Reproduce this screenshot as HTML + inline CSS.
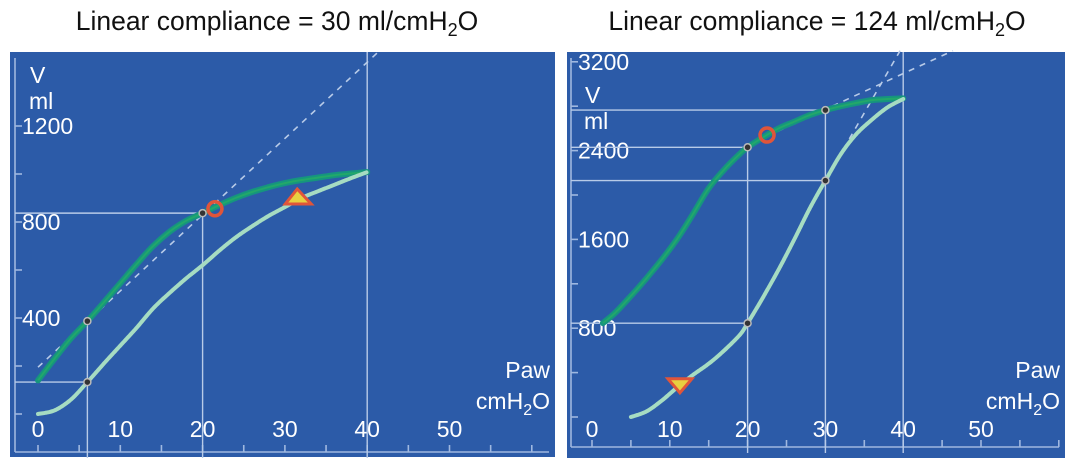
<!DOCTYPE html>
<html><head><meta charset="utf-8"><style>
body{margin:0;background:#fff;width:1075px;height:462px;overflow:hidden;font-family:"Liberation Sans",sans-serif}
svg text{font-family:"Liberation Sans",sans-serif}
</style></head><body>
<svg id="s" width="1075" height="462" xmlns="http://www.w3.org/2000/svg">
<text x="277" y="30" font-size="26.5" text-anchor="middle" fill="#111">Linear compliance = 30 ml/cmH<tspan font-size="18" dy="6">2</tspan><tspan dy="-6">O</tspan></text>
<text x="817" y="30" font-size="26.5" text-anchor="middle" fill="#111">Linear compliance = 124 ml/cmH<tspan font-size="18" dy="6">2</tspan><tspan dy="-6">O</tspan></text>
</svg>
<script>
// Left panel data (cmH2O, ml)
const lInspP=[0,2,4,6,8,10,12,14,16,18,20,22,24,26,28,30,32,34,36,38,40];
const lInspV=[0,15,60,133,210,285,360,440,505,565,620,680,735,782,825,862,900,928,955,982,1008];
const lExpP=[0,2,4,6,8,10,12,14,16,18,20,22,24,26,28,30,32,34,36,38,40];
const lExpV=[140,230,315,387,465,545,625,700,760,805,837,870,900,925,945,962,975,985,995,1002,1008];
const lYTicks=[0,200,400,600,800,1000,1200];
const lYLabels=[400,800,1200];
// Right panel data
const rInspP=[5,7,9,11,13,15,17,19,20,22,24,26,28,30,32,34,36,38,40];
const rInspV=[0,50,150,270,380,480,600,740,845,1080,1330,1600,1880,2130,2370,2550,2680,2790,2865];
const rExpP=[1.4,3,5,7,9,11,13,15,17,19,20,22,24,26,28,30,32,34,36,38,40];
const rExpV=[846,940,1090,1250,1420,1610,1830,2060,2230,2370,2430,2520,2600,2660,2720,2765,2800,2830,2855,2865,2870];
const rYTicks=[0,400,800,1200,1600,2000,2400,2800,3200];
const rYLabels=[800,1600,2400,3200];
const xLabels=[0,10,20,30,40,50];

const NS="http://www.w3.org/2000/svg";
const svg=document.getElementById('s');
function mk(tag,at,parent){const e=document.createElementNS(NS,tag);for(const k in at)e.setAttribute(k,at[k]);(parent||svg).appendChild(e);return e;}

function smooth(pts){
  let d='M'+pts[0][0].toFixed(1)+' '+pts[0][1].toFixed(1);
  for(let i=0;i<pts.length-1;i++){
    const p0=pts[Math.max(0,i-1)],p1=pts[i],p2=pts[i+1],p3=pts[Math.min(pts.length-1,i+2)];
    const c1x=p1[0]+(p2[0]-p0[0])/6,c1y=p1[1]+(p2[1]-p0[1])/6;
    const c2x=p2[0]-(p3[0]-p1[0])/6,c2y=p2[1]-(p3[1]-p1[1])/6;
    d+=` C${c1x.toFixed(1)} ${c1y.toFixed(1)} ${c2x.toFixed(1)} ${c2y.toFixed(1)} ${p2[0].toFixed(1)} ${p2[1].toFixed(1)}`;
  }
  return d;
}

function panel(o){
  const g=mk('g',{});
  
  
  const X=p=>o.x0+p*o.sx, Y=v=>o.y0-v*o.sy;
  const bg=mk('rect',{x:o.L,y:o.T,width:o.R-o.L,height:o.B-o.T,fill:'#2c5ba8'},g);
  
  const ln=(a,b,c,d,extra)=>mk('line',Object.assign({x1:a,y1:b,x2:c,y2:d,stroke:'#9fb8e0','stroke-width':1.6},extra||{}),g);
  const ya=ln(o.ax,o.T+6,o.ax,o.ay);
  const xa=ln(o.ax,o.ay,o.R-6,o.ay);
  o.yt.forEach(v=>{const t=ln(o.ax,Y(v),o.ax+7,Y(v));});
  for(let p=0;p<=60;p+=5){if(X(p)>o.R-4)break;const t=ln(X(p),o.ay-7,X(p),o.ay);}
  const txt=(s,x,y,anchor,name)=>{const t=mk('text',{x:x,y:y,'font-size':23,fill:'#fff','text-anchor':anchor||'start'},g);t.textContent=s;return t;};
  o.yl.forEach(v=>txt(String(v),o.ax+7,Y(v)+8,'start','y-tick-label'));
  xLabels.forEach(p=>txt(String(p),X(p),437,'middle','x-tick-label'));
  txt('V',o.vx,o.vy,'start','y-axis-title');
  txt('ml',o.vx-1,o.vy+26,'start','y-axis-unit');
  txt('Paw',o.R-5,378,'end','x-axis-title');
  const u=txt('cmH',o.R-5,409,'end','x-axis-unit');
  const sub=mk('tspan',{'font-size':16,dy:6},u);sub.textContent='2';
  const t2=mk('tspan',{dy:-6},u);t2.textContent='O';
  o.vl.forEach(r=>{const l=ln(X(r[0]),r[1]==null?o.T:Y(r[1]),X(r[0]),o.ay+6,{stroke:'#b8cbe8','stroke-width':1.4});});
  o.hl.forEach(r=>{const l=ln(o.ax,Y(r[1]),X(r[0]),Y(r[1]),{stroke:'#b8cbe8','stroke-width':1.4});});
  o.dash.forEach(d=>{const l=ln(X(d[0]),Y(d[1]),X(d[2]),Y(d[3]),{stroke:'#b8cbe8','stroke-width':1.6,'stroke-dasharray':'6 6'});});
  const path=(P,V)=>smooth(P.map((p,i)=>[X(p),Y(V[i])]));
  const e1=mk('path',{d:path(o.eP,o.eV),fill:'none',stroke:'#16957e','stroke-width':6,'stroke-linecap':'round','stroke-linejoin':'round'},g);
  
  const e2=mk('path',{d:path(o.eP,o.eV),fill:'none',stroke:'#22a86a','stroke-width':2,'stroke-linejoin':'round'},g);
  
  const i1=mk('path',{d:path(o.iP,o.iV),fill:'none',stroke:'#a6dcc2','stroke-width':4,'stroke-linecap':'round','stroke-linejoin':'round','stroke-dasharray':'3 1'},g);
  
  o.pts.forEach(p=>{const c=mk('circle',{cx:X(p[0]),cy:Y(p[1]),r:3.5,fill:'#333',stroke:'#bbb','stroke-width':1.5},g);});
  const cc=mk('circle',{cx:X(o.circ[0]),cy:Y(o.circ[1]),r:7,fill:'none',stroke:'#e0553a','stroke-width':3.5},g);
  
  const tx=X(o.tri[0]),ty=Y(o.tri[1]);
  const tr=mk('polygon',{points:o.triUp?`${tx-12},${ty+6} ${tx+14},${ty+6} ${tx},${ty-9}`:`${tx-12},${ty-6} ${tx+12},${ty-6} ${tx},${ty+8}`,fill:'#e8d040',stroke:'#e0553a','stroke-width':3},g);
  
}
panel({name:'left-panel',L:10,R:555,T:52,B:457,x0:38,sx:8.23,y0:414,sy:0.24,ax:15,ay:452,yt:lYTicks,yl:lYLabels,vx:30,vy:83,
  iP:lInspP,iV:lInspV,eP:lExpP,eV:lExpV,
  vl:[[6,387],[20,837],[40,null]],hl:[[20,837],[6,133]],dash:[[0,195,41.2,1504]],
  pts:[[6,387],[6,133],[20,837]],circ:[21.5,855],tri:[31.5,900],triUp:true});
panel({name:'right-panel',L:567,R:1065,T:52,B:458,x0:592,sx:7.78,y0:417,sy:0.111,ax:571,ay:447,yt:rYTicks,yl:rYLabels,vx:585,vy:103,
  iP:rInspP,iV:rInspV,eP:rExpP,eV:rExpV,
  vl:[[20,2430],[30,2765],[40,null]],hl:[[30,2765],[20,2430],[30,2130],[20,845]],dash:[[22.5,2530,46.4,3300],[30,2130,39.6,3300]],
  pts:[[20,2430],[30,2765],[30,2130],[20,845]],circ:[22.5,2540],tri:[11.3,290],triUp:false});
</script>
</body></html>
